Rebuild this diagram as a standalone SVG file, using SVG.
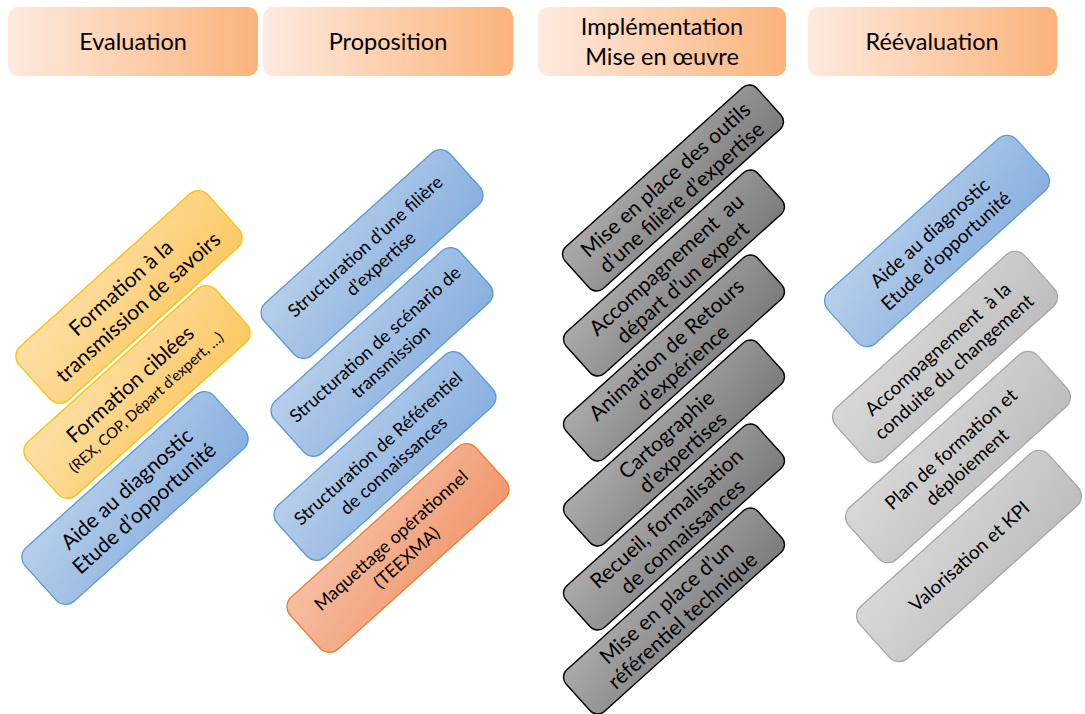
<svg xmlns="http://www.w3.org/2000/svg" width="1085" height="714" viewBox="0 0 1085 714">
<defs>
<linearGradient id="gHead" x1="0" y1="0" x2="1" y2="0"><stop offset="0" stop-color="#fdeadf"/><stop offset="1" stop-color="#fbb37a"/></linearGradient>
<linearGradient id="gYel" x1="0" y1="0" x2="1" y2="1"><stop offset="0" stop-color="#fde0a8"/><stop offset="1" stop-color="#fcc862"/></linearGradient>
<linearGradient id="gBlue" x1="0" y1="0" x2="1" y2="1"><stop offset="0" stop-color="#b8cfea"/><stop offset="1" stop-color="#88b0df"/></linearGradient>
<linearGradient id="gSal" x1="0" y1="0" x2="1" y2="1"><stop offset="0" stop-color="#f6bfa3"/><stop offset="1" stop-color="#f1976d"/></linearGradient>
<linearGradient id="gDark" x1="0" y1="0" x2="1" y2="1"><stop offset="0" stop-color="#ababab"/><stop offset="1" stop-color="#7b7b7b"/></linearGradient>
<linearGradient id="gLight" x1="0" y1="0" x2="1" y2="1"><stop offset="0" stop-color="#d9d9d9"/><stop offset="1" stop-color="#bdbdbd"/></linearGradient>
</defs>
<style>
text{font-family:Lato,"Open Sans","Liberation Sans",sans-serif;fill:#000;text-anchor:middle}
.head rect{fill:url(#gHead)}
.head text{font-size:23.5px}
.yel{fill:url(#gYel);stroke:#ffc000;stroke-width:1.3}
.blue{fill:url(#gBlue);stroke:#5b9bd5;stroke-width:1.3}
.sal{fill:url(#gSal);stroke:#ed7d31;stroke-width:1.3}
.dark{fill:url(#gDark);stroke:#000;stroke-width:1.4}
.light{fill:url(#gLight);stroke:#a6a6a6;stroke-width:1.3}
.t21{font-size:21px}
.t19{font-size:19px}
.t18{font-size:18px}
.t14{font-size:15px}
</style>
<g id="h-evaluation" class="head"><rect x="8" y="7" width="250" height="69" rx="10"/><text x="133" y="50">Evaluation</text></g>
<g id="h-proposition" class="head"><rect x="263" y="7" width="250" height="69" rx="10"/><text x="388" y="50">Proposition</text></g>
<g id="h-implementation" class="head"><rect x="538" y="7" width="248" height="69" rx="10"/><text x="662" y="35">Implémentation</text><text x="662" y="65">Mise en œuvre</text></g>
<g id="h-reevaluation" class="head"><rect x="808" y="7" width="249" height="69" rx="10"/><text x="932" y="50">Réévaluation</text></g>

<g id="n-formation-transmission" transform="translate(129,297) rotate(-42)"><rect class="yel" x="-127" y="-36" width="254" height="72" rx="13"/><text class="t21" y="-5">Formation à la</text><text class="t21" y="21">transmission de savoirs</text></g>
<g id="n-formation-ciblees" transform="translate(137,392) rotate(-42)"><rect class="yel" x="-127" y="-36" width="254" height="72" rx="13"/><text class="t21" y="-3">Formation ciblées</text><text class="t14" y="19">(REX, COP, Départ d’expert, …)</text></g>
<g id="n-aide-diagnostic-1" transform="translate(135,498) rotate(-42)"><rect class="blue" x="-127" y="-36" width="254" height="72" rx="13"/><text class="t21" y="-5">Aide au diagnostic</text><text class="t21" y="21">Etude d’opportunité</text></g>

<g id="n-structuration-filiere" transform="translate(372,254) rotate(-42)"><rect class="blue" x="-125" y="-35" width="250" height="70" rx="13"/><text class="t18" y="-4">Structuration d’une filière</text><text class="t18" y="19">d’expertise</text></g>
<g id="n-structuration-scenario" transform="translate(382,352) rotate(-42)"><rect class="blue" x="-125" y="-35" width="250" height="70" rx="13"/><text class="t18" y="-4">Structuration de scénario de</text><text class="t18" y="19">transmission</text></g>
<g id="n-structuration-referentiel" transform="translate(385,456) rotate(-42)"><rect class="blue" x="-125" y="-35" width="250" height="70" rx="13"/><text class="t18" y="-4">Structuration de Référentiel</text><text class="t18" y="19">de connaissances</text></g>
<g id="n-maquettage" transform="translate(398,548) rotate(-42)"><rect class="sal" x="-125" y="-35" width="250" height="70" rx="13"/><text class="t18" y="-4">Maquettage opérationnel</text><text class="t18" y="19">(TEEXMA)</text></g>

<g id="n-outils-filiere" transform="translate(673,188) rotate(-42)"><rect class="dark" x="-129" y="-28" width="258" height="56" rx="10"/><text class="t21" y="-4">Mise en place des outils</text><text class="t21" y="20">d’une filière d’expertise</text></g>
<g id="n-depart-expert" transform="translate(674,273) rotate(-42)"><rect class="dark" x="-129" y="-28" width="258" height="56" rx="10"/><text class="t21" y="-4" xml:space="preserve">Accompagnement  au</text><text class="t21" y="20">départ d’un expert</text></g>
<g id="n-retours-experience" transform="translate(674,358) rotate(-42)"><rect class="dark" x="-129" y="-28" width="258" height="56" rx="10"/><text class="t21" y="-4">Animation de Retours</text><text class="t21" y="20">d’expérience</text></g>
<g id="n-cartographie" transform="translate(674,443) rotate(-42)"><rect class="dark" x="-129" y="-28" width="258" height="56" rx="10"/><text class="t21" y="-4">Cartographie</text><text class="t21" y="20">d’expertises</text></g>
<g id="n-recueil" transform="translate(674,527) rotate(-42)"><rect class="dark" x="-129" y="-28" width="258" height="56" rx="10"/><text class="t21" y="-4">Recueil, formalisation</text><text class="t21" y="20">de connaissances</text></g>
<g id="n-referentiel-technique" transform="translate(674,611) rotate(-42)"><rect class="dark" x="-129" y="-28" width="258" height="56" rx="10"/><text class="t21" y="-4">Mise en place d’un</text><text class="t21" y="20">référentiel technique</text></g>

<g id="n-aide-diagnostic-2" transform="translate(937,241) rotate(-42)"><rect class="blue" x="-127" y="-35" width="254" height="70" rx="13"/><text class="t19" y="-4">Aide au diagnostic</text><text class="t19" y="20">Etude d’opportunité</text></g>
<g id="n-conduite-changement" transform="translate(945,357) rotate(-42)"><rect class="light" x="-127" y="-35" width="254" height="70" rx="13"/><text class="t19" y="-4" xml:space="preserve">Accompagnement  à la</text><text class="t19" y="20">conduite du changement</text></g>
<g id="n-plan-formation" transform="translate(958,457) rotate(-42)"><rect class="light" x="-127" y="-35" width="254" height="70" rx="13"/><text class="t19" y="-4">Plan de formation et</text><text class="t19" y="20">déploiement</text></g>
<g id="n-valorisation" transform="translate(969,556) rotate(-42)"><rect class="light" x="-127" y="-35" width="254" height="70" rx="13"/><text class="t19" y="7">Valorisation et KPI</text></g>
</svg>
